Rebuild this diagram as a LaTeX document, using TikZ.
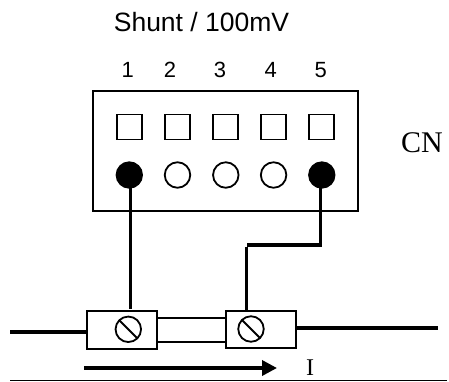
\documentclass[tikz,border=0pt]{standalone}
\usepackage{fontspec}
\setmainfont{Liberation Serif}
\setsansfont{Liberation Sans}
\usetikzlibrary{arrows.meta}
\tikzset{
  thin line/.style={line width=2pt},
  wire/.style={line width=3.5pt},
  pin square/.style={draw,line width=1.8pt,minimum size=25pt,inner sep=0pt,outer sep=0pt},
  pin open/.style={circle,draw,line width=1.8pt,fill=white,minimum size=25.5pt,inner sep=0pt,outer sep=0pt},
  pin filled/.style={pin open,fill=black},
  terminal/.style={draw,line width=2pt,fill=white,minimum width=70pt,minimum height=37.5pt,inner sep=0pt,outer sep=0pt},
  screw/.style={circle,draw,line width=1.8pt,minimum size=25.5pt,inner sep=0pt,outer sep=0pt},
  digit/.style={font=\sffamily\fontsize{22}{22}\selectfont,inner sep=0pt,anchor=base},
}
\begin{document}
\begin{tikzpicture}[x=1pt,y=-1pt]
\useasboundingbox (0,0) rectangle (449,381);
\node[font=\sffamily\fontsize{26.5}{26.5}\selectfont,inner sep=0pt] (title) at (201.5,22) {Shunt / 100mV};
\node[digit] (d1) at (127.7,77) {1};
\node[digit] (d2) at (170,77) {2};
\node[digit] (d3) at (220,77) {3};
\node[digit] (d4) at (270.7,77) {4};
\node[digit] (d5) at (320.7,77) {5};
\node[draw,line width=2.2pt,minimum width=264.5pt,minimum height=120pt,inner sep=0pt] (cn) at (225.6,150.7) {};
\node[pin square] (s1) at (129.3,127) {};
\node[pin square] (s2) at (177.5,127) {};
\node[pin square] (s3) at (225.8,127) {};
\node[pin square] (s4) at (273.6,127) {};
\node[pin square] (s5) at (321.8,127) {};
\node[pin filled] (c1) at (129.3,175) {};
\node[pin open] (c2) at (177.5,175) {};
\node[pin open] (c3) at (225.8,175) {};
\node[pin open] (c4) at (273.6,175) {};
\node[pin filled] (c5) at (321.8,175) {};
\node[font=\fontsize{30}{30}\selectfont,inner sep=0pt] (cnlabel) at (422,143) {CN};
% shunt bar
\node[terminal] (t1) at (122,330.2) {};
\node[terminal] (t2) at (261.3,329.3) {};
\coordinate (bar1a) at (156.5,317.7); \coordinate (bar1b) at (226.7,317.7);
\coordinate (bar2a) at (156.5,341.7); \coordinate (bar2b) at (226.7,341.7);
\draw[thin line] (bar1a) -- (bar1b);
\draw[thin line] (bar2a) -- (bar2b);
\node[screw] (sc1) at (128.3,329.3) {};
\node[screw] (sc2) at (251,329) {};
\draw[thin line] (sc1.135) -- (sc1.315);
\draw[thin line] (sc2.135) -- (sc2.315);
% wires
\coordinate (w1) at (130.7,308.5);
\coordinate (w2) at (246.7,310);
\coordinate (e1) at (320.3,245);
\coordinate (e2) at (249,245);
\coordinate (e3) at (246.7,246.6);
\coordinate (s1a) at (130.7,185);
\coordinate (s5a) at (320.3,185);
\draw[wire] (s1a) -- (w1);
\draw[wire,line cap=rect] (s5a) -- (e1) -- (e2);
\draw[wire] (e3) -- (w2);
\coordinate (la) at (10,332); \coordinate (lb) at (85.5,332);
\coordinate (ra) at (296,328); \coordinate (rb) at (438,328);
\draw[wire] (la) -- (lb);
\draw[wire] (ra) -- (rb);
% current arrow
\coordinate (ara) at (84,368); \coordinate (arb) at (277,368);
\draw[wire,-{Triangle[length=15pt,width=15pt]}] (ara) -- (arb);
\coordinate (ba) at (10,380); \coordinate (bb) at (447,380);
\draw[line width=1pt] (ba) -- (bb);
\node[font=\fontsize{24}{24}\selectfont,inner sep=0pt,anchor=base] (curr) at (310,375.5) {I};
\end{tikzpicture}
\end{document}
